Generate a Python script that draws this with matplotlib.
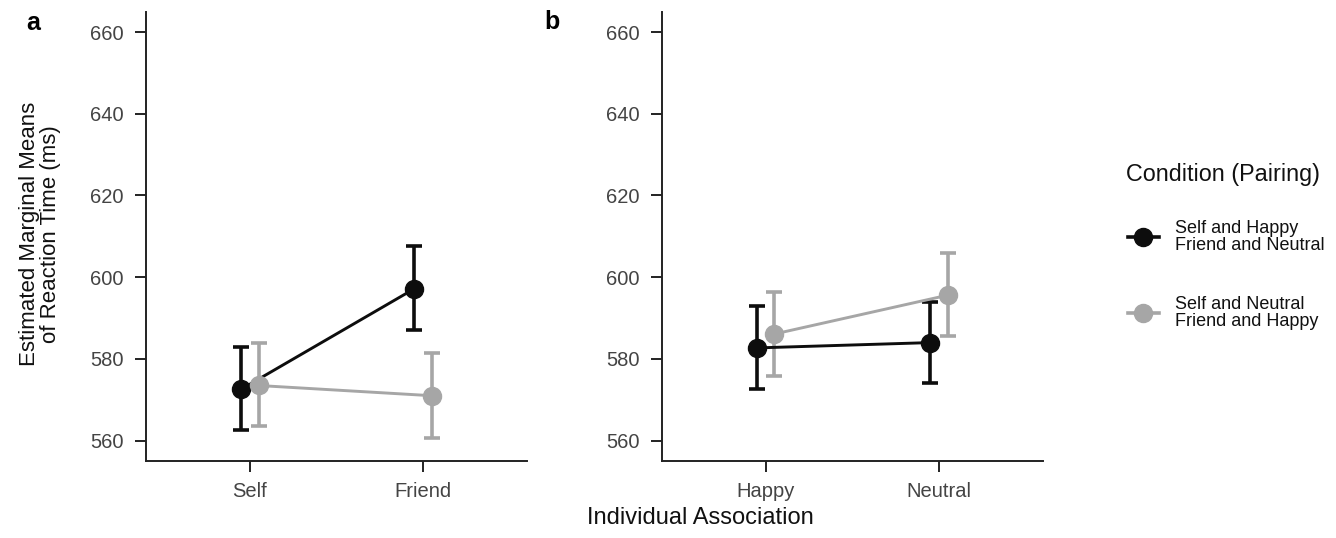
import matplotlib
matplotlib.use('Agg')
import matplotlib.pyplot as plt
from matplotlib.lines import Line2D

plt.rcParams['font.family'] = ['Liberation Sans', 'DejaVu Sans']

# panel a: individual association Self / Friend
levels_a = ['Self', 'Friend']
mean_a_black = [572.6, 597.2]
low_a_black = [562.5, 587.0]
high_a_black = [582.8, 607.6]
mean_a_grey = [573.5, 571.0]
low_a_grey = [563.6, 560.7]
high_a_grey = [584.0, 581.5]

# panel b: individual association Happy / Neutral
levels_b = ['Happy', 'Neutral']
mean_b_black = [582.7, 584.0]
low_b_black = [572.6, 574.1]
high_b_black = [593.0, 593.9]
mean_b_grey = [586.1, 595.6]
low_b_grey = [575.8, 585.6]
high_b_grey = [596.3, 605.9]

legend_title = 'Condition (Pairing)'
legend_labels = ['Self and Happy\nFriend and Neutral', 'Self and Neutral\nFriend and Happy']
y_ticks = [560, 580, 600, 620, 640, 660]

BLACK = '#0d0d0d'
GREY = '#a6a6a6'
TICK_COLOR = '#444444'
SPINE_COLOR = '#222222'

fig = plt.figure(figsize=(13.36, 5.38), dpi=100)
ax_a = fig.add_axes([0.1093, 0.1437, 0.2852, 0.834])
ax_b = fig.add_axes([0.4953, 0.1437, 0.2854, 0.834])

dodge = 0.05


def draw_series(ax, means, lows, highs, color, offset):
    xs = [i + offset for i in range(len(means))]
    err = [[m - lo for m, lo in zip(means, lows)],
           [hi - m for m, hi in zip(means, highs)]]
    ax.errorbar(xs, means, yerr=err, fmt='o-', color=color, ms=13, lw=2.1,
                elinewidth=2.6, capsize=6, capthick=2.6, zorder=3)


def style_axes(ax, labels):
    ax.set_xlim(-0.6, 1.6)
    ax.set_ylim(555.1, 664.9)
    ax.set_xticks(range(len(labels)))
    ax.set_xticklabels(labels)
    ax.set_yticks(y_ticks)
    for side in ['top', 'right']:
        ax.spines[side].set_visible(False)
    for side in ['left', 'bottom']:
        ax.spines[side].set_color(SPINE_COLOR)
        ax.spines[side].set_linewidth(1.4)
    ax.tick_params(axis='both', length=8, width=1.4, color=SPINE_COLOR,
                   labelcolor=TICK_COLOR, labelsize=14.5)
    ax.tick_params(axis='y', pad=8)
    ax.tick_params(axis='x', pad=7)


draw_series(ax_a, mean_a_black, low_a_black, high_a_black, BLACK, -dodge)
draw_series(ax_a, mean_a_grey, low_a_grey, high_a_grey, GREY, dodge)
draw_series(ax_b, mean_b_black, low_b_black, high_b_black, BLACK, -dodge)
draw_series(ax_b, mean_b_grey, low_b_grey, high_b_grey, GREY, dodge)
style_axes(ax_a, levels_a)
style_axes(ax_b, levels_b)

fig.text(33 / 1336, 1 - 23 / 538, 'a', fontsize=18, fontweight='bold',
         ha='center', va='center')
fig.text(552 / 1336, 1 - 22 / 538, 'b', fontsize=18, fontweight='bold',
         ha='center', va='center')

fig.text(40 / 1336, 0.565, 'Estimated Marginal Means\nof Reaction Time (ms)',
         rotation=90, ha='center', va='center', fontsize=16,
         multialignment='center', linespacing=0.95, color='#111111')
fig.text(700 / 1336, 1 - 518 / 538, 'Individual Association', ha='center',
         va='center', fontsize=17, color='#111111')

# legend title drawn separately so the gap to the entries can be set
fig.text(1126 / 1336, 1 - 174 / 538, legend_title, ha='left', va='center',
         fontsize=16.8, color='#111111')
handles = [
    Line2D([], [], color=BLACK, marker='o', ms=13, lw=2.6),
    Line2D([], [], color=GREY, marker='o', ms=13, lw=2.6),
]
leg = fig.legend(handles, legend_labels, loc='upper left',
                 bbox_to_anchor=(1128 / 1336, 1 - 220 / 538), frameon=False,
                 fontsize=13, handlelength=1.7, handletextpad=0.9,
                 labelspacing=2.3, borderaxespad=0, borderpad=0)
for t in leg.get_texts():
    t.set_linespacing(1.0)
    t.set_color('#111111')

fig.savefig('out.png', dpi=100)
